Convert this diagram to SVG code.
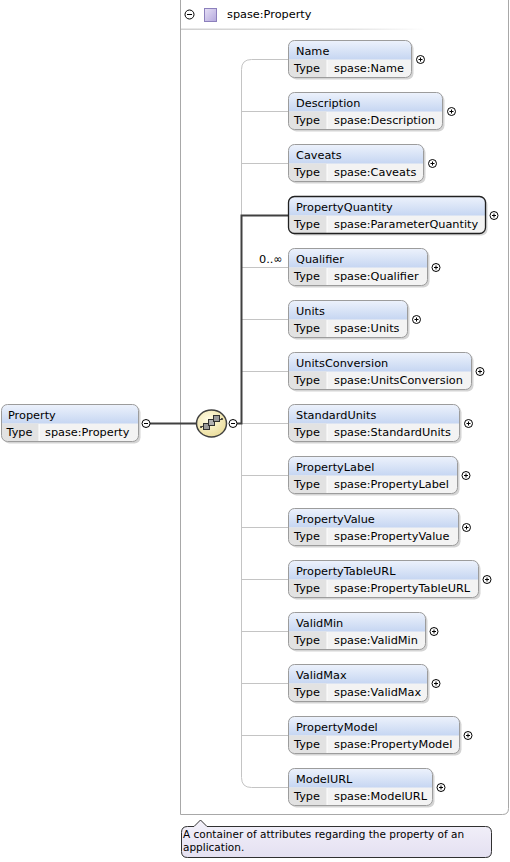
<svg xmlns="http://www.w3.org/2000/svg" width="510" height="862" viewBox="0 0 510 862">
<defs>
<linearGradient id="hg" x1="0" y1="0" x2="0" y2="1"><stop offset="0" stop-color="#edf2fc"/><stop offset="1" stop-color="#c6d6f2"/></linearGradient>
<linearGradient id="sep" x1="0" y1="0" x2="1" y2="0"><stop offset="0" stop-color="#d0d0d0"/><stop offset="0.7" stop-color="#e4e4e4"/><stop offset="1" stop-color="#ffffff"/></linearGradient>
<linearGradient id="lav" x1="0" y1="0" x2="1" y2="1"><stop offset="0" stop-color="#e6e0f6"/><stop offset="1" stop-color="#b4a8dc"/></linearGradient>
<linearGradient id="tip" x1="0" y1="0" x2="0" y2="1"><stop offset="0" stop-color="#f3f1fa"/><stop offset="1" stop-color="#e4e0f1"/></linearGradient>
<radialGradient id="seqg" cx="0.4" cy="0.35" r="0.7"><stop offset="0" stop-color="#fffbe4"/><stop offset="1" stop-color="#eadc98"/></radialGradient>
<style>
text{font-family:"DejaVu Sans",Verdana,sans-serif;font-size:11.3px;fill:#000}
.tt{font-size:10.5px}
.sh{fill:#d4d4d4}
.bg{fill:#f3f3f3}
.hd{fill:url(#hg)}
.tc{fill:#e2e2e2}
.dv{stroke:#ffffff;stroke-width:1}
.nb{fill:none;stroke:#9c9c9c;stroke-width:1}
.nbk{fill:none;stroke:#202020;stroke-width:1.3}
.pc{fill:#fff;stroke:#000;stroke-width:1}
.pl{stroke:#000;stroke-width:1}
.cl{fill:none;stroke:#c4c4c4;stroke-width:1}
.dk{fill:none;stroke:#404040;stroke-width:2}
</style>
</defs>
<rect width="510" height="862" fill="#fff"/>

<g id="container">
<path d="M180.5,0 V814.5 H502.5 Q508.5,814.5 508.5,808.5 V0" fill="#fff" stroke="#a8a8a8"/>
<rect x="181" y="28.5" width="245" height="1.5" fill="url(#sep)"/>
<circle class="pc" cx="189.5" cy="14.5" r="4.5"/>
<line class="pl" x1="187" y1="14.5" x2="192" y2="14.5"/>
<rect x="204.5" y="8.5" width="12" height="13" fill="url(#lav)" stroke="#8c80bc"/>
<text x="227" y="18">spase:Property</text>
</g>

<g id="connectors">
<path class="cl" d="M288.5,59.5 H251.5 Q241.5,59.5 241.5,69.5 V777.5 Q241.5,787.5 251.5,787.5 H288.5"/>
<path class="cl" d="M241.5,111.5H288.5 M241.5,163.5H288.5 M241.5,267.5H288.5 M241.5,319.5H288.5 M241.5,371.5H288.5 M241.5,423.5H288.5 M241.5,475.5H288.5 M241.5,527.5H288.5 M241.5,579.5H288.5 M241.5,631.5H288.5 M241.5,683.5H288.5 M241.5,735.5H288.5"/>
<path class="dk" d="M237,423.5 H241.5 V215.5 H288.5"/>
<path class="dk" d="M150,423.5 H196"/>
<text x="259" y="263">0..∞</text>
</g>

<g id="Property" transform="translate(1.5,404.5)">
<rect class="sh" x="2" y="2" width="137" height="37" rx="6"/>
<rect class="bg" width="137" height="37" rx="6"/>
<path class="hd" d="M0,19V6Q0,0 6,0H131Q137,0 137,6V19Z"/>
<path class="tc" d="M0,19H37.5V37H6Q0,37 0,31Z"/>
<line class="dv" x1="37.5" y1="19.5" x2="37.5" y2="36.5"/>
<rect class="nb" width="137" height="37" rx="6"/>
<text x="6.5" y="14.5">Property</text>
<text x="5" y="31.5">Type</text>
<text x="43.5" y="31.5">spase:Property</text>
<circle class="pc" cx="144.5" cy="19" r="4"/>
<line class="pl" x1="142.5" y1="19" x2="146.5" y2="19"/>
</g>

<g id="sequence">
<ellipse cx="211.5" cy="423.5" rx="15" ry="13.5" fill="url(#seqg)" stroke="#404040" stroke-width="1.5"/>
<line x1="201" y1="427" x2="222" y2="419" stroke="#303030" stroke-width="1"/>
<rect x="203.5" y="423.5" width="6" height="6" fill="#9a9a9a" stroke="#303030"/>
<rect x="208.5" y="419.5" width="6" height="6" fill="#b0b0b0" stroke="#303030"/>
<rect x="213.5" y="415.5" width="6" height="6" fill="#9a9a9a" stroke="#303030"/>
<circle cx="201" cy="427" r="1" fill="#303030"/>
<circle cx="222" cy="419" r="1" fill="#303030"/>
<circle class="pc" cx="233" cy="423.5" r="4"/>
<line class="pl" x1="231" y1="423.5" x2="235" y2="423.5"/>
</g>

<g id="Name" transform="translate(288.5,40.5)">
<rect class="sh" x="2" y="2" width="123" height="37" rx="6"/>
<rect class="bg" width="123" height="37" rx="6"/>
<path class="hd" d="M0,19V6Q0,0 6,0H117Q123,0 123,6V19Z"/>
<path class="tc" d="M0,19H38.5V37H6Q0,37 0,31Z"/>
<line class="dv" x1="38.5" y1="19.5" x2="38.5" y2="36.5"/>
<rect class="nb" width="123" height="37" rx="6"/>
<text x="7.5" y="14.5">Name</text><text x="5.5" y="31.5">Type</text><text x="45.5" y="31.5">spase:Name</text>
<circle class="pc" cx="132" cy="19" r="4"/><path class="pl" d="M130,19h4M132,17v4"/>
</g>

<g id="Description" transform="translate(288.5,92.5)">
<rect class="sh" x="2" y="2" width="154" height="37" rx="6"/>
<rect class="bg" width="154" height="37" rx="6"/>
<path class="hd" d="M0,19V6Q0,0 6,0H148Q154,0 154,6V19Z"/>
<path class="tc" d="M0,19H38.5V37H6Q0,37 0,31Z"/>
<line class="dv" x1="38.5" y1="19.5" x2="38.5" y2="36.5"/>
<rect class="nb" width="154" height="37" rx="6"/>
<text x="7.5" y="14.5">Description</text><text x="5.5" y="31.5">Type</text><text x="45.5" y="31.5">spase:Description</text>
<circle class="pc" cx="163" cy="19" r="4"/><path class="pl" d="M161,19h4M163,17v4"/>
</g>

<g id="Caveats" transform="translate(288.5,144.5)">
<rect class="sh" x="2" y="2" width="135" height="37" rx="6"/>
<rect class="bg" width="135" height="37" rx="6"/>
<path class="hd" d="M0,19V6Q0,0 6,0H129Q135,0 135,6V19Z"/>
<path class="tc" d="M0,19H38.5V37H6Q0,37 0,31Z"/>
<line class="dv" x1="38.5" y1="19.5" x2="38.5" y2="36.5"/>
<rect class="nb" width="135" height="37" rx="6"/>
<text x="7.5" y="14.5">Caveats</text><text x="5.5" y="31.5">Type</text><text x="45.5" y="31.5">spase:Caveats</text>
<circle class="pc" cx="144" cy="19" r="4"/><path class="pl" d="M142,19h4M144,17v4"/>
</g>

<g id="PropertyQuantity" transform="translate(288.5,196.5)">
<rect class="sh" x="2" y="2" width="197" height="37" rx="6"/>
<rect class="bg" width="197" height="37" rx="6"/>
<path class="hd" d="M0,19V6Q0,0 6,0H191Q197,0 197,6V19Z"/>
<path class="tc" d="M0,19H38.5V37H6Q0,37 0,31Z"/>
<line class="dv" x1="38.5" y1="19.5" x2="38.5" y2="36.5"/>
<rect class="nbk" width="197" height="37" rx="6"/>
<text x="7.5" y="14.5">PropertyQuantity</text><text x="5.5" y="31.5">Type</text><text x="45.5" y="31.5">spase:ParameterQuantity</text>
<circle class="pc" cx="205.5" cy="19" r="4"/><path class="pl" d="M203.5,19h4M205.5,17v4"/>
</g>

<g id="Qualifier" transform="translate(288.5,248.5)">
<rect class="sh" x="2" y="2" width="139" height="37" rx="6"/>
<rect class="bg" width="139" height="37" rx="6"/>
<path class="hd" d="M0,19V6Q0,0 6,0H133Q139,0 139,6V19Z"/>
<path class="tc" d="M0,19H38.5V37H6Q0,37 0,31Z"/>
<line class="dv" x1="38.5" y1="19.5" x2="38.5" y2="36.5"/>
<rect class="nb" width="139" height="37" rx="6"/>
<text x="7.5" y="14.5">Qualifier</text><text x="5.5" y="31.5">Type</text><text x="45.5" y="31.5">spase:Qualifier</text>
<circle class="pc" cx="147.5" cy="19" r="4"/><path class="pl" d="M145.5,19h4M147.5,17v4"/>
</g>

<g id="Units" transform="translate(288.5,300.5)">
<rect class="sh" x="2" y="2" width="119" height="37" rx="6"/>
<rect class="bg" width="119" height="37" rx="6"/>
<path class="hd" d="M0,19V6Q0,0 6,0H113Q119,0 119,6V19Z"/>
<path class="tc" d="M0,19H38.5V37H6Q0,37 0,31Z"/>
<line class="dv" x1="38.5" y1="19.5" x2="38.5" y2="36.5"/>
<rect class="nb" width="119" height="37" rx="6"/>
<text x="7.5" y="14.5">Units</text><text x="5.5" y="31.5">Type</text><text x="45.5" y="31.5">spase:Units</text>
<circle class="pc" cx="128" cy="19" r="4"/><path class="pl" d="M126,19h4M128,17v4"/>
</g>

<g id="UnitsConversion" transform="translate(288.5,352.5)">
<rect class="sh" x="2" y="2" width="183" height="37" rx="6"/>
<rect class="bg" width="183" height="37" rx="6"/>
<path class="hd" d="M0,19V6Q0,0 6,0H177Q183,0 183,6V19Z"/>
<path class="tc" d="M0,19H38.5V37H6Q0,37 0,31Z"/>
<line class="dv" x1="38.5" y1="19.5" x2="38.5" y2="36.5"/>
<rect class="nb" width="183" height="37" rx="6"/>
<text x="7.5" y="14.5">UnitsConversion</text><text x="5.5" y="31.5">Type</text><text x="45.5" y="31.5">spase:UnitsConversion</text>
<circle class="pc" cx="191.5" cy="19" r="4"/><path class="pl" d="M189.5,19h4M191.5,17v4"/>
</g>

<g id="StandardUnits" transform="translate(288.5,404.5)">
<rect class="sh" x="2" y="2" width="171" height="37" rx="6"/>
<rect class="bg" width="171" height="37" rx="6"/>
<path class="hd" d="M0,19V6Q0,0 6,0H165Q171,0 171,6V19Z"/>
<path class="tc" d="M0,19H38.5V37H6Q0,37 0,31Z"/>
<line class="dv" x1="38.5" y1="19.5" x2="38.5" y2="36.5"/>
<rect class="nb" width="171" height="37" rx="6"/>
<text x="7.5" y="14.5">StandardUnits</text><text x="5.5" y="31.5">Type</text><text x="45.5" y="31.5">spase:StandardUnits</text>
<circle class="pc" cx="180" cy="19" r="4"/><path class="pl" d="M178,19h4M180,17v4"/>
</g>

<g id="PropertyLabel" transform="translate(288.5,456.5)">
<rect class="sh" x="2" y="2" width="169" height="37" rx="6"/>
<rect class="bg" width="169" height="37" rx="6"/>
<path class="hd" d="M0,19V6Q0,0 6,0H163Q169,0 169,6V19Z"/>
<path class="tc" d="M0,19H38.5V37H6Q0,37 0,31Z"/>
<line class="dv" x1="38.5" y1="19.5" x2="38.5" y2="36.5"/>
<rect class="nb" width="169" height="37" rx="6"/>
<text x="7.5" y="14.5">PropertyLabel</text><text x="5.5" y="31.5">Type</text><text x="45.5" y="31.5">spase:PropertyLabel</text>
<circle class="pc" cx="177.5" cy="19" r="4"/><path class="pl" d="M175.5,19h4M177.5,17v4"/>
</g>

<g id="PropertyValue" transform="translate(288.5,508.5)">
<rect class="sh" x="2" y="2" width="170" height="37" rx="6"/>
<rect class="bg" width="170" height="37" rx="6"/>
<path class="hd" d="M0,19V6Q0,0 6,0H164Q170,0 170,6V19Z"/>
<path class="tc" d="M0,19H38.5V37H6Q0,37 0,31Z"/>
<line class="dv" x1="38.5" y1="19.5" x2="38.5" y2="36.5"/>
<rect class="nb" width="170" height="37" rx="6"/>
<text x="7.5" y="14.5">PropertyValue</text><text x="5.5" y="31.5">Type</text><text x="45.5" y="31.5">spase:PropertyValue</text>
<circle class="pc" cx="178" cy="19" r="4"/><path class="pl" d="M176,19h4M178,17v4"/>
</g>

<g id="PropertyTableURL" transform="translate(288.5,560.5)">
<rect class="sh" x="2" y="2" width="190" height="37" rx="6"/>
<rect class="bg" width="190" height="37" rx="6"/>
<path class="hd" d="M0,19V6Q0,0 6,0H184Q190,0 190,6V19Z"/>
<path class="tc" d="M0,19H38.5V37H6Q0,37 0,31Z"/>
<line class="dv" x1="38.5" y1="19.5" x2="38.5" y2="36.5"/>
<rect class="nb" width="190" height="37" rx="6"/>
<text x="7.5" y="14.5">PropertyTableURL</text><text x="5.5" y="31.5">Type</text><text x="45.5" y="31.5">spase:PropertyTableURL</text>
<circle class="pc" cx="198.5" cy="19" r="4"/><path class="pl" d="M196.5,19h4M198.5,17v4"/>
</g>

<g id="ValidMin" transform="translate(288.5,612.5)">
<rect class="sh" x="2" y="2" width="137" height="37" rx="6"/>
<rect class="bg" width="137" height="37" rx="6"/>
<path class="hd" d="M0,19V6Q0,0 6,0H131Q137,0 137,6V19Z"/>
<path class="tc" d="M0,19H38.5V37H6Q0,37 0,31Z"/>
<line class="dv" x1="38.5" y1="19.5" x2="38.5" y2="36.5"/>
<rect class="nb" width="137" height="37" rx="6"/>
<text x="7.5" y="14.5">ValidMin</text><text x="5.5" y="31.5">Type</text><text x="45.5" y="31.5">spase:ValidMin</text>
<circle class="pc" cx="145.5" cy="19" r="4"/><path class="pl" d="M143.5,19h4M145.5,17v4"/>
</g>

<g id="ValidMax" transform="translate(288.5,664.5)">
<rect class="sh" x="2" y="2" width="139" height="37" rx="6"/>
<rect class="bg" width="139" height="37" rx="6"/>
<path class="hd" d="M0,19V6Q0,0 6,0H133Q139,0 139,6V19Z"/>
<path class="tc" d="M0,19H38.5V37H6Q0,37 0,31Z"/>
<line class="dv" x1="38.5" y1="19.5" x2="38.5" y2="36.5"/>
<rect class="nb" width="139" height="37" rx="6"/>
<text x="7.5" y="14.5">ValidMax</text><text x="5.5" y="31.5">Type</text><text x="45.5" y="31.5">spase:ValidMax</text>
<circle class="pc" cx="147.5" cy="19" r="4"/><path class="pl" d="M145.5,19h4M147.5,17v4"/>
</g>

<g id="PropertyModel" transform="translate(288.5,716.5)">
<rect class="sh" x="2" y="2" width="171" height="37" rx="6"/>
<rect class="bg" width="171" height="37" rx="6"/>
<path class="hd" d="M0,19V6Q0,0 6,0H165Q171,0 171,6V19Z"/>
<path class="tc" d="M0,19H38.5V37H6Q0,37 0,31Z"/>
<line class="dv" x1="38.5" y1="19.5" x2="38.5" y2="36.5"/>
<rect class="nb" width="171" height="37" rx="6"/>
<text x="7.5" y="14.5">PropertyModel</text><text x="5.5" y="31.5">Type</text><text x="45.5" y="31.5">spase:PropertyModel</text>
<circle class="pc" cx="179.5" cy="19" r="4"/><path class="pl" d="M177.5,19h4M179.5,17v4"/>
</g>

<g id="ModelURL" transform="translate(288.5,768.5)">
<rect class="sh" x="2" y="2" width="144" height="37" rx="6"/>
<rect class="bg" width="144" height="37" rx="6"/>
<path class="hd" d="M0,19V6Q0,0 6,0H138Q144,0 144,6V19Z"/>
<path class="tc" d="M0,19H38.5V37H6Q0,37 0,31Z"/>
<line class="dv" x1="38.5" y1="19.5" x2="38.5" y2="36.5"/>
<rect class="nb" width="144" height="37" rx="6"/>
<text x="7.5" y="14.5">ModelURL</text><text x="5.5" y="31.5">Type</text><text x="45.5" y="31.5">spase:ModelURL</text>
<circle class="pc" cx="152.5" cy="19" r="4"/><path class="pl" d="M150.5,19h4M152.5,17v4"/>
</g>

<g id="tooltip">
<path d="M187.5,826.5 H194 L200.5,820 L207,826.5 H485.5 Q491.5,826.5 491.5,832.5 V851.5 Q491.5,857.5 485.5,857.5 H187.5 Q181.5,857.5 181.5,851.5 V832.5 Q181.5,826.5 187.5,826.5 Z" fill="url(#tip)" stroke="#303030"/>
<text class="tt" x="183" y="838">A container of attributes regarding the property of an</text>
<text class="tt" x="183" y="851">application.</text>
</g>
</svg>
